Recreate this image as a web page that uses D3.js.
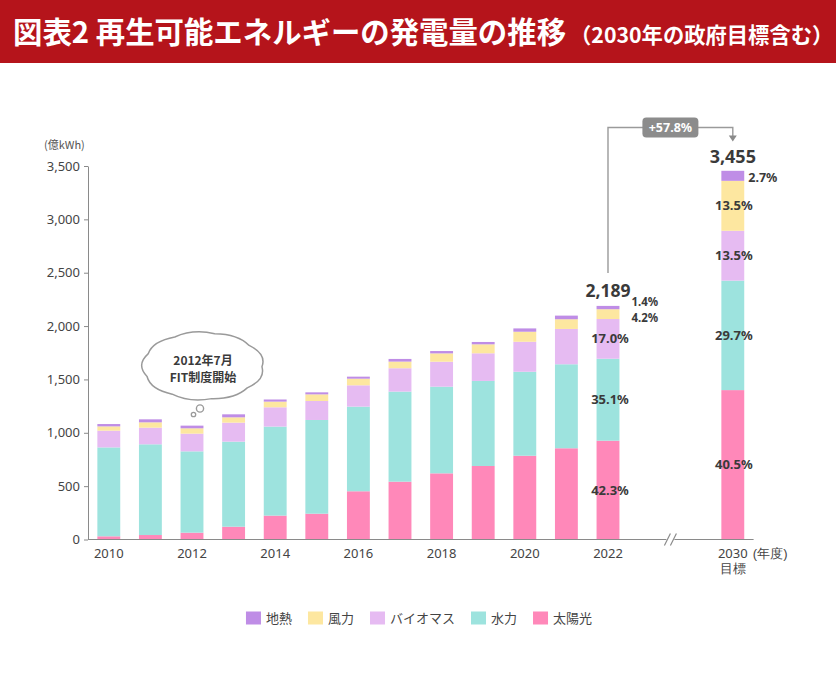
<!DOCTYPE html>
<html><head><meta charset="utf-8">
<script src="https://cdn.jsdelivr.net/npm/d3@7"></script>
<style>
body{margin:0;background:#fff;}
svg{display:block;font-family:"Noto Sans CJK JP","Noto Sans",sans-serif;}
</style></head><body>
<svg id="c" width="836" height="686"></svg>
<script>
// ---- data (億kWh) ----
const years   = ["2010","2011","2012","2013","2014","2015","2016","2017","2018","2019","2020","2021","2022","2030"];
const solar   = [30, 42, 64, 120, 224, 242, 452, 542, 620, 689, 785, 855, 926, 1400];
const hydro   = [833, 850, 762, 797, 834, 878, 793, 844, 812, 797, 787, 787, 768, 1026];
const biomass = [157, 156, 166, 178, 181, 178, 200, 219, 234, 259, 281, 331, 372, 467];
const wind    = [40, 50, 50, 50, 53, 62, 62, 62, 78, 84, 94, 91, 92, 468];
const geo     = [22, 28, 25, 28, 20, 19, 19, 25, 22, 22, 31, 34, 31, 94];
const pct2022 = ["42.3%","35.1%","17.0%","4.2%","1.4%"];
const pct2030 = ["40.5%","29.7%","13.5%","13.5%","2.7%"];
const yTicks  = [0,500,1000,1500,2000,2500,3000,3500];
const xTickLabels = ["2010","2012","2014","2016","2018","2020","2022","2030"];
const keys    = ["solar","hydro","biomass","wind","geo"];
const names   = {geo:"地熱", wind:"風力", biomass:"バイオマス", hydro:"水力", solar:"太陽光"};
const colors  = {geo:"#bf8de6", wind:"#fde7a0", biomass:"#e6bbf2", hydro:"#9de3de", solar:"#ff88b9"};
const legendOrder = ["geo","wind","biomass","hydro","solar"];

const table = years.map((y,i)=>({year:y, solar:solar[i], hydro:hydro[i], biomass:biomass[i], wind:wind[i], geo:geo[i]}));
const totals = table.map(d=>keys.reduce((s,k)=>s+d[k],0));

const svg = d3.select("#c");
const txt = "#3a3a3a";
const numFont = "'Noto Sans','Noto Sans CJK JP',sans-serif";

// ---- title banner ----
svg.append("rect").attr("x",0).attr("y",0).attr("width",836).attr("height",63).attr("fill","#b5141b");
const title = svg.append("text").attr("x",13).attr("y",43).attr("fill","#fff").attr("font-weight",700);
title.append("tspan").attr("font-size",29.4).text("図表2 再生可能エネルギーの発電量の推移");
title.append("tspan").attr("font-size",21.3).attr("dx",4).text("（2030年の政府目標含む）");

// ---- scales ----
const domainX = years.slice(0,13).concat(["gapA","gapB","2030"]);
const x = d3.scaleBand().domain(domainX).range([88, 753.6]).paddingInner(0.45).paddingOuter(0.225);
const y = d3.scaleLinear().domain([0,3500]).range([539.5,166]);

// ---- y axis ----
const ya = svg.append("g").attr("transform","translate(88,0)")
  .call(d3.axisLeft(y).tickValues(yTicks).tickSize(4).tickSizeOuter(0).tickPadding(4).tickFormat(d3.format(",")));
ya.select(".domain").attr("stroke","#8a8a8a");
ya.selectAll(".tick line").attr("stroke","#8a8a8a");
ya.selectAll(".tick text").attr("font-size",13).attr("fill","#444").attr("font-family",numFont);
svg.append("text").attr("x",44).attr("y",149).attr("font-size",11).attr("fill","#555").text("(億kWh)");

// ---- bars ----
const stack = d3.stack().keys(keys)(table);
svg.append("g").selectAll("g").data(stack).join("g").attr("fill",s=>colors[s.key])
  .selectAll("rect").data(s=>s).join("rect")
  .attr("x",d=>x(d.data.year)).attr("width",x.bandwidth())
  .attr("y",d=>y(d[1])).attr("height",d=>y(d[0])-y(d[1]));

// ---- x axis ----
const baseY = y(0);
const brk = (x("2022")+x.bandwidth()/2 + x("2030")+x.bandwidth()/2)/2;
const xl = svg.append("g").attr("stroke","#8a8a8a").attr("stroke-width",1.2);
xl.append("line").attr("x1",88).attr("x2",brk-4).attr("y1",baseY).attr("y2",baseY);
xl.append("line").attr("x1",brk+4).attr("x2",753.6).attr("y1",baseY).attr("y2",baseY);
[-3,3].forEach(o=>xl.append("line").attr("x1",brk+o-3).attr("x2",brk+o+3).attr("y1",baseY+6).attr("y2",baseY-6));

const xa = svg.append("g").attr("transform",`translate(0,${baseY})`)
  .call(d3.axisBottom(x).tickValues(xTickLabels).tickSize(0).tickPadding(9));
xa.select(".domain").remove();
xa.selectAll(".tick text").attr("font-size",13).attr("fill","#444").attr("font-family",numFont);
const t2030 = xa.selectAll(".tick").filter(d=>d==="2030");
t2030.append("text").attr("x",20).attr("y",9).attr("dy","0.71em").attr("text-anchor","start")
  .attr("font-size",13).attr("fill","#444").text("(年度)");
t2030.append("text").attr("x",0).attr("y",24).attr("dy","0.71em").attr("text-anchor","middle")
  .attr("font-size",13).attr("fill","#444").text("目標");

// ---- labels on 2022 / 2030 ----
const ann = svg.append("g").attr("font-weight",700).attr("fill",txt).attr("font-family",numFont);
function segCenter(i,k){const s=stack.find(s=>s.key===k)[i];return (y(s[0])+y(s[1]))/2;}
const i22 = 12, i30 = 13;
const cx22 = x("2022")+x.bandwidth()/2, cx30 = x("2030")+x.bandwidth()/2;
["solar","hydro","biomass"].forEach((k,j)=>{
  ann.append("text").attr("x",cx22+2).attr("y",segCenter(i22,k)).attr("dy","0.35em").attr("text-anchor","middle")
    .attr("font-size",13).text(pct2022[j]);
});
const top22 = y(totals[i22]);
const sideX = x("2022")+x.bandwidth()+12;
ann.append("text").attr("x",sideX).attr("y",top22-4).attr("dy","0.35em").attr("font-size",11.5).text(pct2022[4]);
ann.append("text").attr("x",sideX).attr("y",top22+12.5).attr("dy","0.35em").attr("font-size",11.5).text(pct2022[3]);
ann.append("text").attr("x",cx22).attr("y",top22-9).attr("text-anchor","middle").attr("font-size",17.5).text(d3.format(",")(totals[i22]));
["solar","hydro","biomass","wind"].forEach((k,j)=>{
  ann.append("text").attr("x",cx30+1).attr("y",segCenter(i30,k)).attr("dy","0.35em").attr("text-anchor","middle")
    .attr("font-size",13).text(pct2030[j]);
});
ann.append("text").attr("x",x("2030")+x.bandwidth()+4).attr("y",segCenter(i30,"geo")+1.5).attr("dy","0.35em").attr("font-size",12.5).text(pct2030[4]);
const top30 = y(totals[i30]);
ann.append("text").attr("x",cx30).attr("y",top30-8).attr("text-anchor","middle").attr("font-size",18).text(d3.format(",")(totals[i30]));

// ---- growth bracket ----
const by = 127.5;
svg.append("path").attr("fill","none").attr("stroke","#9a9a9a").attr("stroke-width",1.4)
  .attr("d",`M${cx22},${top22-33}V${by}H${cx30}V${by+9}`);
svg.append("path").attr("fill","#8a8a8a").attr("d",`M${cx30-4},${by+8}L${cx30+4},${by+8}L${cx30},${by+14}Z`);
const mid = (cx22+cx30)/2;
svg.append("rect").attr("x",mid-28).attr("y",by-10).attr("width",56).attr("height",20).attr("rx",4).attr("fill","#8c8c8c");
svg.append("text").attr("x",mid).attr("y",by).attr("dy","0.35em").attr("text-anchor","middle").attr("fill","#fff")
  .attr("font-weight",700).attr("font-size",12.5).attr("font-family",numFont)
  .text("+" + d3.format(".1f")((totals[i30]/totals[i22]-1)*100) + "%");

// ---- thought bubble ----
(function(){
  const cx=203, cy=366, rx=59, ry=33, n=9, f=1.14;
  let p="";
  for(let i=0;i<=n;i++){
    const a=-Math.PI/2+0.2+i*2*Math.PI/n;
    const px=cx+rx*Math.cos(a), py=cy+ry*Math.sin(a);
    if(i===0){p+=`M${px},${py}`;continue;}
    const am=a-Math.PI/n;
    p+=`Q${cx+rx*f*Math.cos(am)},${cy+ry*f*Math.sin(am)} ${px},${py}`;
  }
  p+="Z";
  const g=svg.append("g");
  g.append("path").attr("d",p).attr("fill","#fff").attr("stroke","#9a9a9a").attr("stroke-width",1.5);
  g.append("circle").attr("cx",200).attr("cy",408.5).attr("r",3.6).attr("fill","#fff").attr("stroke","#9a9a9a").attr("stroke-width",1.4);
  g.append("circle").attr("cx",193.5).attr("cy",414.5).attr("r",2.2).attr("fill","#fff").attr("stroke","#9a9a9a").attr("stroke-width",1.3);
  g.append("text").attr("x",cx).attr("y",360.5).attr("dy","0.35em").attr("text-anchor","middle").attr("font-size",12).attr("font-weight",700).attr("fill",txt).text("2012年7月");
  g.append("text").attr("x",cx).attr("y",378).attr("dy","0.35em").attr("text-anchor","middle").attr("font-size",12).attr("font-weight",700).attr("fill",txt).text("FIT制度開始");
})();

// ---- legend ----
const lg = svg.append("g");
let lx = 0;
legendOrder.forEach(k=>{
  const it = lg.append("g").attr("transform",`translate(${lx},0)`);
  it.append("rect").attr("x",0).attr("y",-7).attr("width",15).attr("height",13).attr("fill",colors[k]);
  const t = it.append("text").attr("x",20).attr("y",0).attr("dy","0.35em").attr("font-size",13).attr("fill","#444").text(names[k]);
  lx += 20 + t.node().getComputedTextLength() + 16;
});
lx -= 16;
lg.attr("transform",`translate(${419 - lx/2},618.5)`);
</script>
</body></html>
